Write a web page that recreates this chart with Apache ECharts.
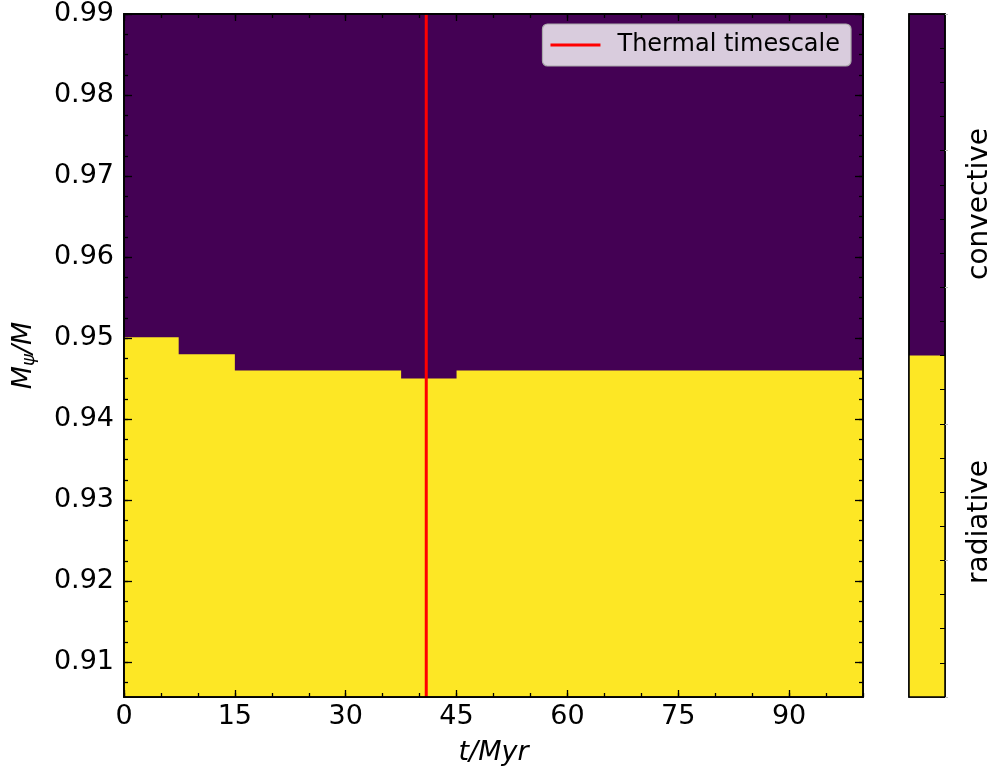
<!DOCTYPE html>
<html><head><meta charset="utf-8">
<script src="https://cdn.jsdelivr.net/npm/echarts@6/dist/echarts.min.js"></script>
<style>html,body{margin:0;padding:0;background:#fff}#c{width:993px;height:771px}</style>
</head><body><div id="c"></div>
<script>
// Boundary between radiative (below) and convective (above), step function
const boundaryTimes = [0, 7.4, 15, 37.5, 45, 100];
const boundaryMass = [0.9501, 0.9480, 0.9460, 0.9450, 0.9460, 0.9460];
const thermalTimescale = 40.9;
const yMin = 0.9057, yMax = 0.99;
const xMin = 0, xMax = 100;
const xTickLabels = [0, 15, 30, 45, 60, 75, 90];
const yTickLabels = [0.91, 0.92, 0.93, 0.94, 0.95, 0.96, 0.97, 0.98, 0.99];
const colorbarCategories = ['radiative', 'convective'];
const colorbarShares = [1, 1];

const PURPLE = '#440154', YELLOW = '#fde725';
const FONT = 'DejaVu Sans';
const TICKFS = 27;

const xMinor = []; for (let v = 0; v <= 100; v += 5) xMinor.push(v);
const yMinor = []; for (let k = 0; k <= 40; k++) { const v = +(0.90 + k * 0.0025).toFixed(4); if (v >= yMin && v <= yMax) yMinor.push(v); }

const stepData = boundaryTimes.map((t, i) => [t, boundaryMass[i]]);

const G = { left: 124, top: 14, right: 130, bottom: 74, outerBoundsMode: 'none', containLabel: false };
const CB = { left: 909, top: 14, width: 36, bottom: 74, outerBoundsMode: 'none', containLabel: false };

function xAx(grid, pos, labels, ticks, len, name) {
  return {
    type: 'value', gridIndex: grid, min: xMin, max: xMax, position: pos, z: 10,
    axisLine: { show: true, onZero: false, lineStyle: { color: '#000', width: 1.5 } },
    axisTick: { show: true, inside: true, length: len, customValues: ticks, lineStyle: { color: '#000', width: 1.3 } },
    axisLabel: { show: labels, customValues: ticks, color: '#000', fontSize: TICKFS, fontFamily: FONT, margin: 6 },
    splitLine: { show: false },
    name: name || '', nameLocation: 'middle', nameGap: 42,
    nameTextStyle: { color: '#000', fontSize: TICKFS, fontFamily: FONT, fontStyle: 'italic' }
  };
}
function yAx(grid, pos, labels, ticks, len, withName) {
  const a = {
    type: 'value', gridIndex: grid, min: yMin, max: yMax, position: pos, z: 10,
    axisLine: { show: true, onZero: false, lineStyle: { color: '#000', width: 1.5 } },
    axisTick: { show: true, inside: true, length: len, customValues: ticks, lineStyle: { color: '#000', width: 1.3 } },
    axisLabel: { show: labels, customValues: ticks, color: '#000', fontSize: TICKFS, fontFamily: FONT, margin: 10,
      formatter: v => v.toFixed(2) },
    splitLine: { show: false }
  };
  if (withName) {
    a.name = '{i|M}{s|ψ}{i|/M}';
    a.nameLocation = 'middle';
    a.nameGap = 86;
    a.nameRotate = 90;
    a.nameTextStyle = { rich: {
      i: { fontSize: TICKFS, fontFamily: FONT, fontStyle: 'italic', color: '#000' },
      s: { fontSize: 18, fontFamily: FONT, fontStyle: 'italic', color: '#000', verticalAlign: 'bottom', padding: [10, 0, 0, 0] }
    } };
  }
  return a;
}
function hiddenX(grid) { return { type: 'category', gridIndex: grid, data: ['c'], show: false }; }
function cbY(grid, interval, inside, len, color) {
  return { type: 'value', gridIndex: grid, min: 0, max: 2, interval: interval, position: 'right', z: 10,
    axisLine: { show: false }, splitLine: { show: false }, axisLabel: { show: false },
    axisTick: { show: true, inside: inside, length: len, lineStyle: { color: color, width: 1 } } };
}

const chart = echarts.init(document.getElementById('c'), null, { renderer: 'canvas' });
chart.setOption({
  animation: false,
  backgroundColor: '#fff',
  grid: [
    Object.assign({ show: true, backgroundColor: PURPLE, borderColor: '#000', borderWidth: 1.5 }, G), // 0 main
    Object.assign({ show: true, backgroundColor: PURPLE, borderColor: '#000', borderWidth: 1.5 }, CB), // 1 colorbar
    Object.assign({}, G),  // 2 minor ticks bottom/left
    Object.assign({}, G),  // 3 major ticks top/right
    Object.assign({}, G),  // 4 minor ticks top/right
    Object.assign({ show: true, z: 10, backgroundColor: 'transparent', borderColor: '#000', borderWidth: 1.5 }, CB)  // 5 colorbar outline + inner ticks
  ],
  xAxis: [
    xAx(0, 'bottom', true, xTickLabels, 7, 't/Myr'),
    hiddenX(1),
    xAx(2, 'bottom', false, xMinor, 4),
    xAx(3, 'top', false, xTickLabels, 7),
    xAx(4, 'top', false, xMinor, 4),
    hiddenX(5)
  ],
  yAxis: [
    yAx(0, 'left', true, yTickLabels, 8, true),
    cbY(1, 0.4, false, 3, '#bbb'),
    yAx(2, 'left', false, yMinor, 4),
    yAx(3, 'right', false, yTickLabels, 8),
    yAx(4, 'right', false, yMinor, 4),
    cbY(5, 0.1, true, 5, '#000')
  ],
  legend: {
    data: [{ name: 'Thermal timescale', icon: 'rect' }],
    right: 142, top: 24, orient: 'vertical',
    itemWidth: 50, itemHeight: 3, itemGap: 10,
    padding: [9, 11, 9, 8],
    backgroundColor: 'rgba(255,255,255,0.8)', borderColor: '#aaa', borderWidth: 1.2, borderRadius: 5,
    textStyle: { color: '#000', fontSize: 24, fontFamily: FONT, padding: [0, 0, 0, 12] }
  },
  graphic: [
    { type: 'text', rotation: Math.PI / 2, x: 980, y: 204, z: 20,
      style: { text: colorbarCategories[1], fontSize: 28, fontFamily: FONT, fill: '#000', align: 'center', verticalAlign: 'middle' } },
    { type: 'text', rotation: Math.PI / 2, x: 980, y: 522, z: 20,
      style: { text: colorbarCategories[0], fontSize: 28, fontFamily: FONT, fill: '#000', align: 'center', verticalAlign: 'middle' } }
  ],
  series: [
    {
      name: 'radiative', type: 'line', xAxisIndex: 0, yAxisIndex: 0, step: 'end',
      data: stepData, symbol: 'none', lineStyle: { width: 0 },
      areaStyle: { color: YELLOW, opacity: 1, origin: 'start' }, z: 2
    },
    {
      name: 'Thermal timescale', type: 'line', xAxisIndex: 0, yAxisIndex: 0,
      data: [[thermalTimescale, yMin], [thermalTimescale, yMax]], symbol: 'none',
      lineStyle: { color: '#ff0000', width: 3 }, itemStyle: { color: '#ff0000' }, z: 5
    },
    {
      name: 'cb-radiative', type: 'bar', xAxisIndex: 1, yAxisIndex: 1, stack: 'cb',
      data: [colorbarShares[0]], barWidth: '100%', itemStyle: { color: YELLOW }
    }
  ]
});
</script></body></html>
